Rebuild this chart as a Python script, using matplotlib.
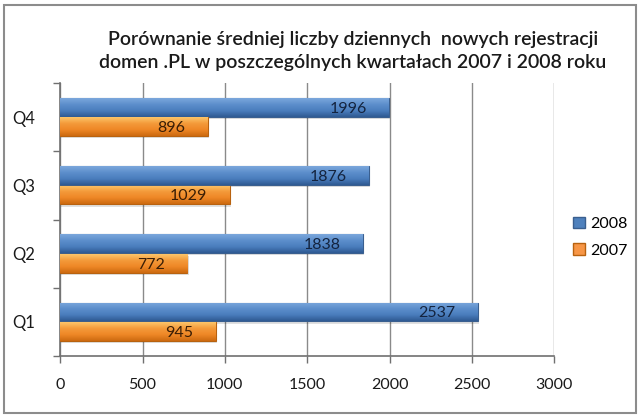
import matplotlib
matplotlib.use('Agg')
import matplotlib.pyplot as plt
import numpy as np
from matplotlib.patches import Patch, Rectangle
from matplotlib.colors import LinearSegmentedColormap

# data
quarters = ['Q1', 'Q2', 'Q3', 'Q4']
regs_2008 = [2537, 1838, 1876, 1996]
regs_2007 = [945, 772, 1029, 896]
x_ticks = [0, 500, 1000, 1500, 2000, 2500, 3000]

TITLE = ('Porównanie średniej liczby dziennych  nowych rejestracji\n'
         'domen .PL w poszczególnych kwartałach 2007 i 2008 roku')

BLUE_EDGE = '#3a5f8f'
ORANGE_EDGE = '#b8620f'
BLUE_GRAD = LinearSegmentedColormap.from_list('b', ['#2f5a93', '#4a7dbd', '#5d8fcc', '#7ba7dc'])
ORANGE_GRAD = LinearSegmentedColormap.from_list('o', ['#cc6a10', '#ee8726', '#f49a3a', '#fcc56a'])
GRID = '#8a8a8a'
TXT = '#1a1a1a'

plt.rcParams['font.family'] = ['Lato', 'DejaVu Sans']

fig = plt.figure(figsize=(6.4, 4.16), dpi=100, facecolor='white')
ax = fig.add_axes([0.094, 0.144, 0.772, 0.656])

ypos = np.arange(len(quarters))
h = 0.275
b08 = ax.barh(ypos + 0.145, regs_2008, height=h, color='#4f81bd',
              edgecolor=BLUE_EDGE, linewidth=0.8, zorder=3, label='2008')
b07 = ax.barh(ypos - 0.14, regs_2007, height=h, color='#f79646',
              edgecolor=ORANGE_EDGE, linewidth=0.8, zorder=3, label='2007')

# vertical gradient on every bar
grad = np.linspace(0, 1, 64).reshape(-1, 1)
for bars, cmap in ((b08, BLUE_GRAD), (b07, ORANGE_GRAD)):
    for r in bars:
        x0, y0 = r.get_x(), r.get_y()
        im = ax.imshow(grad, cmap=cmap, origin='lower', aspect='auto',
                       extent=[x0, x0 + r.get_width(), y0, y0 + r.get_height()],
                       zorder=3.5, interpolation='bilinear')
        im.set_clip_path(r)
        # soft shadow under bar
        ax.add_patch(Rectangle((x0 + 8, y0 - 0.03), r.get_width(), r.get_height(),
                               color='#000000', alpha=0.12, zorder=2.5, lw=0))

for bars, col in ((b08, '#14243f'), (b07, '#3a1e05')):
    for r in bars:
        ax.annotate(f'{int(r.get_width())}', (r.get_width(), r.get_y() + r.get_height() / 2),
                    xytext=(-16, -1), textcoords='offset points', ha='right', va='center',
                    fontsize=11.5, color=col, zorder=5)

ax.set_xlim(0, 3000)
ax.set_ylim(-0.5, 3.5)
ax.set_xticks(x_ticks)
ax.set_xticklabels([str(t) for t in x_ticks])
ax.set_yticks(ypos)
ax.set_yticklabels(quarters)
ax.set_yticks(np.arange(-0.5, 4, 1), minor=True)
ax.tick_params(axis='y', which='major', length=0, pad=18, labelsize=12, labelcolor=TXT)
ax.tick_params(axis='y', which='minor', length=5, width=1, color='#707070', direction='out')
ax.tick_params(axis='x', length=5, width=1, color='#707070', direction='out',
               pad=11, labelsize=11.5, labelcolor=TXT)
ax.grid(axis='x', color=GRID, linewidth=1, zorder=0)
for s in ('top', 'right'):
    ax.spines[s].set_visible(False)
for s in ('left', 'bottom'):
    ax.spines[s].set_color('#707070')
    ax.spines[s].set_linewidth(1.2)

fig.text(0.551, 0.877, TITLE, ha='center', va='center', fontsize=14,
         color=TXT, linespacing=1.4, fontweight='semibold')

handles = [Patch(facecolor='#4f81bd', edgecolor=BLUE_EDGE, label='2008'),
           Patch(facecolor='#f79646', edgecolor=ORANGE_EDGE, label='2007')]
fig.legend(handles=handles, loc='center left', bbox_to_anchor=(0.885, 0.43),
           frameon=False, fontsize=11.5, handlelength=0.75, handleheight=0.75,
           handletextpad=0.35, labelspacing=0.75, borderaxespad=0)

fig.add_artist(Rectangle((0.006, 0.008), 0.988, 0.98, transform=fig.transFigure,
                         fill=False, edgecolor='#8c8c8c', linewidth=1.5))

fig.savefig('out.png', dpi=100, facecolor='white')
